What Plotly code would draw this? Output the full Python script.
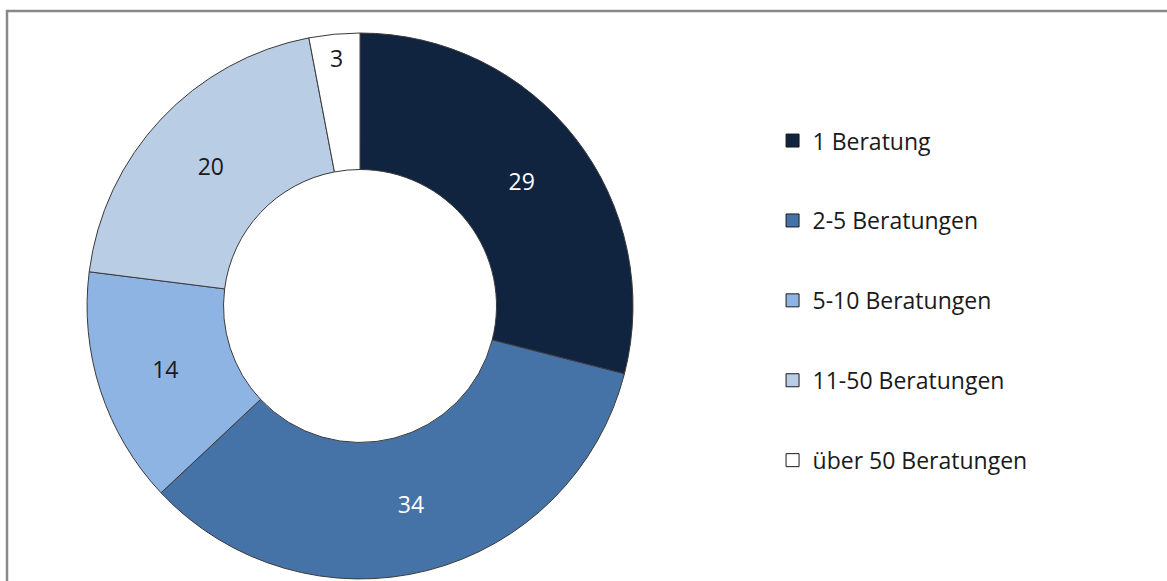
import plotly.graph_objects as go

labels = ["1 Beratung", "2-5 Beratungen", "5-10 Beratungen", "11-50 Beratungen", "über 50 Beratungen"]
values = [29, 34, 14, 20, 3]
colors = ["#10243f", "#4573a7", "#8eb4e3", "#b9cde5", "#ffffff"]
text_colors = ["#ffffff", "#ffffff", "#1a1a1a", "#1a1a1a", "#1a1a1a"]

FONT = "Open Sans, Lato, sans-serif"
FSIZE = 23

fig = go.Figure()
fig.add_trace(
    go.Pie(
        labels=labels,
        values=values,
        hole=0.5,
        sort=False,
        direction="clockwise",
        rotation=0,
        marker=dict(colors=colors, line=dict(color="#3a3a3a", width=1)),
        texttemplate="%{value}",
        textposition="inside",
        insidetextorientation="horizontal",
        textfont=dict(family=FONT, size=FSIZE, color=text_colors),
        domain=dict(x=[0.0746, 0.5424], y=[0.0017, 0.945]),
        showlegend=False,
    )
)

# legend entries (one group each so the gap can match the original spacing)
for name, c in zip(labels, colors):
    fig.add_trace(
        go.Scatter(
            x=[None], y=[None], mode="markers", name=name, legendgroup=name,
            marker=dict(symbol="square", size=13, color=c, line=dict(color="#1a1a1a", width=1)),
        )
    )

fig.update_layout(
    width=1167,
    height=581,
    margin=dict(l=0, r=0, t=0, b=0),
    paper_bgcolor="white",
    plot_bgcolor="white",
    font=dict(family=FONT, size=FSIZE, color="#1a1a1a"),
    xaxis=dict(visible=False),
    yaxis=dict(visible=False),
    legend=dict(
        x=0.662, y=0.795, xanchor="left", yanchor="top",
        traceorder="grouped", tracegroupgap=47, itemclick=False,
        font=dict(family=FONT, size=FSIZE, color="#1a1a1a"),
    ),
    shapes=[
        dict(type="rect", xref="paper", yref="paper", x0=7 / 1167, x1=1.02, y0=-0.02, y1=1 - 11 / 581,
             line=dict(color="#888888", width=2.5), layer="below"),
    ],
)

fig.write_html("out.html", config={"displayModeBar": False},
               post_script="document.body.style.margin='0';")
